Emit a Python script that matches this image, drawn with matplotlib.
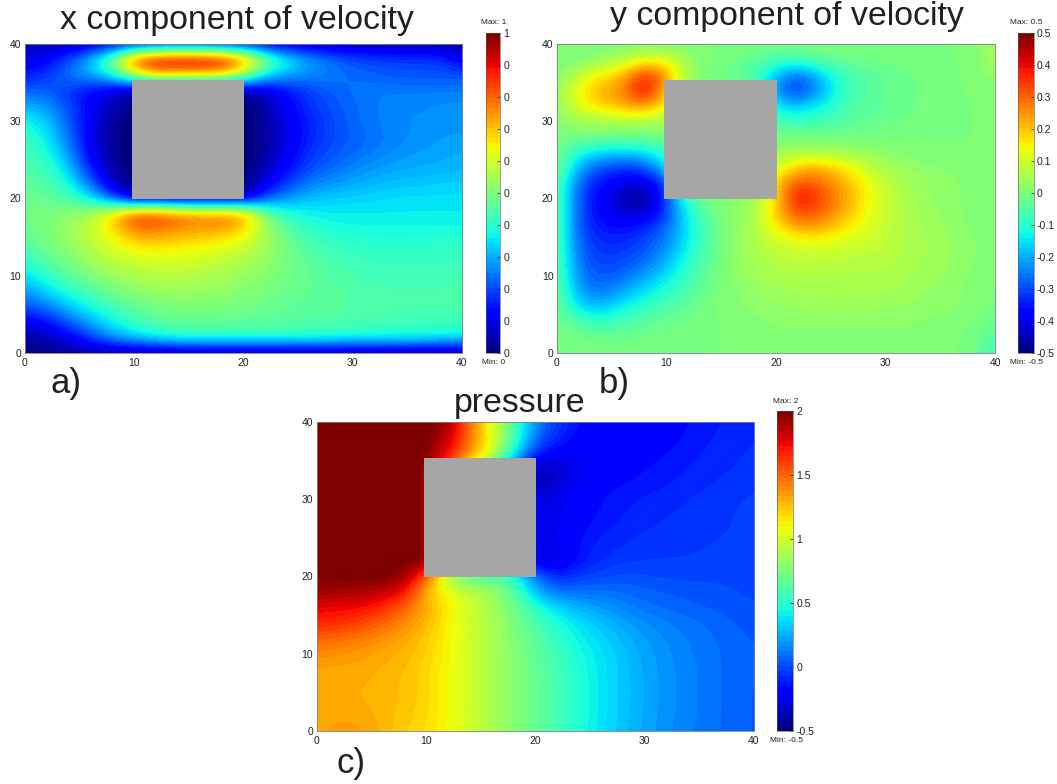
"""
Flow around a square obstacle: u, v and pressure fields
"""
import numpy as np
import matplotlib
matplotlib.use('Agg')
import matplotlib.pyplot as plt
from matplotlib.patches import Rectangle

plt.rcParams['font.family'] = ['Liberation Sans', 'DejaVu Sans']

W, H = 1057, 784

# obstacle: x0, y0, x1, y1
SQUARE = (9.8, 19.9, 20.1, 35.4)
AXIS_TICKS = [0, 10, 20, 30, 40]

# rows go from y=40 down to y=0 in steps of 2, columns x=0..40 in steps of 2
U_FIELD = [
    [.05, .05, .06, .08, .10, .12, .13, .13, .13, .12, .11, .09, .08, .07, .06, .05, .05, .04, .04, .04, .03],
    [.10, .12, .20, .32, .52, .85, .95, .97, .97, .94, .80, .52, .37, .29, .24, .21, .20, .19, .19, .19, .10],
    [.15, .18, .25, .30, .38, .58, .72, .68, .68, .68, .55, .35, .30, .27, .25, .23, .22, .21, .21, .21, .21],
    [.22, .22, .18, .13, .09, .02, .00, .00, .00, .00, .03, .08, .14, .19, .22, .24, .25, .25, .25, .25, .25],
    [.30, .28, .20, .12, .05, .00, .00, .00, .00, .00, .00, .04, .12, .18, .21, .23, .25, .26, .26, .27, .27],
    [.38, .33, .22, .11, .03, .00, .00, .00, .00, .00, .00, .03, .11, .16, .20, .23, .25, .26, .27, .28, .28],
    [.42, .36, .24, .10, .02, .00, .00, .00, .00, .00, .00, .03, .10, .16, .20, .22, .24, .26, .27, .28, .28],
    [.44, .39, .28, .11, .02, .00, .00, .00, .00, .00, .00, .03, .11, .18, .21, .23, .25, .27, .28, .29, .30],
    [.45, .42, .33, .15, .03, .00, .00, .00, .00, .00, .00, .05, .13, .20, .23, .26, .28, .29, .30, .30, .31],
    [.47, .45, .38, .24, .06, .00, .00, .00, .00, .00, .00, .10, .19, .25, .28, .29, .31, .32, .32, .33, .33],
    [.48, .47, .44, .36, .22, .05, .05, .05, .05, .05, .05, .21, .28, .32, .33, .34, .34, .35, .35, .35, .35],
    [.49, .50, .52, .56, .68, .85, .86, .80, .78, .79, .76, .50, .40, .37, .36, .36, .36, .36, .36, .36, .36],
    [.47, .50, .54, .59, .66, .78, .78, .75, .74, .73, .68, .54, .46, .41, .39, .38, .38, .38, .38, .38, .38],
    [.45, .49, .53, .57, .62, .66, .67, .66, .65, .63, .60, .55, .49, .44, .42, .41, .40, .40, .40, .41, .41],
    [.40, .46, .50, .54, .58, .60, .61, .61, .60, .58, .56, .53, .49, .46, .44, .43, .42, .42, .42, .42, .42],
    [.34, .41, .46, .50, .53, .56, .57, .57, .56, .55, .53, .51, .49, .47, .45, .44, .43, .43, .43, .43, .44],
    [.28, .34, .40, .45, .49, .52, .53, .54, .53, .53, .51, .50, .48, .47, .46, .45, .44, .44, .44, .44, .44],
    [.20, .25, .32, .38, .43, .47, .49, .50, .50, .50, .49, .48, .47, .46, .46, .45, .45, .44, .44, .44, .44],
    [.10, .14, .22, .30, .37, .42, .46, .47, .47, .47, .47, .46, .46, .45, .45, .44, .44, .43, .43, .43, .43],
    [.03, .05, .10, .19, .28, .33, .37, .40, .41, .41, .41, .41, .41, .40, .40, .39, .39, .38, .38, .37, .37],
    [.01, .02, .02, .03, .03, .03, .03, .03, .03, .03, .03, .03, .03, .03, .03, .03, .03, .03, .03, .03, .03],
]

V_FIELD = [
    [.00, .00, .00, .00, .00, .00, .00, .00, .00, .00, .00, .00, .00, .00, .00, .00, .00, .00, .00, .00, .05],
    [.00, .00, .02, .06, .11, .12, .03, .00, -.01, -.03, -.06, -.06, -.03, -.02, -.01, -.01, .00, .00, .00, .00, .05],
    [.00, .08, .16, .20, .38, .25, .03, .00, -.03, -.06, -.18, -.28, -.18, -.08, -.05, -.03, -.02, -.01, .00, .00, .03],
    [.02, .15, .22, .26, .43, .20, .00, .00, .00, .00, -.25, -.33, -.22, -.09, -.05, -.03, -.02, -.01, .00, .00, .00],
    [.02, .13, .18, .22, .26, .15, .00, .00, .00, .00, -.15, -.18, -.14, -.07, -.04, -.03, -.02, -.01, .00, .00, .00],
    [.01, .04, .05, .06, .05, .05, .00, .00, .00, .00, -.06, -.08, -.07, -.05, -.03, -.02, -.01, -.01, .00, .00, .00],
    [.00, .00, -.01, -.01, -.01, .00, .00, .00, .00, .00, .00, -.01, -.01, -.01, -.01, -.01, .00, .00, .00, .00, .00],
    [.00, -.12, -.15, -.16, -.15, -.08, .00, .00, .00, .00, .03, .05, .05, .04, .03, .02, .01, .00, .00, .00, .00],
    [.00, -.20, -.30, -.32, -.30, -.15, .00, .00, .00, .00, .10, .20, .22, .17, .10, .05, .03, .02, .01, .01, .00],
    [-.02, -.28, -.36, -.40, -.42, -.32, .00, .00, .00, .00, .20, .33, .30, .23, .15, .08, .05, .03, .02, .01, .00],
    [-.03, -.30, -.38, -.45, -.50, -.30, -.06, .00, .02, .05, .15, .42, .33, .25, .16, .09, .05, .03, .02, .01, .00],
    [-.03, -.30, -.38, -.42, -.42, -.32, -.12, -.02, .02, .04, .20, .33, .30, .23, .14, .09, .06, .04, .02, .01, .00],
    [-.03, -.30, -.35, -.35, -.33, -.26, -.14, -.04, .02, .05, .14, .22, .22, .16, .12, .08, .06, .04, .03, .01, .00],
    [-.03, -.28, -.33, -.33, -.30, -.24, -.13, -.04, .02, .06, .09, .10, .11, .10, .09, .08, .06, .05, .03, .02, .00],
    [-.03, -.27, -.31, -.30, -.27, -.20, -.10, -.03, .02, .05, .07, .08, .08, .08, .07, .07, .06, .04, .03, .02, .00],
    [-.02, -.25, -.29, -.27, -.22, -.15, -.08, -.02, .02, .04, .06, .06, .06, .06, .06, .06, .05, .04, .03, .01, .00],
    [-.02, -.22, -.26, -.21, -.15, -.10, -.05, -.01, .01, .03, .04, .05, .05, .05, .05, .05, .04, .03, .02, .01, .00],
    [-.01, -.16, -.19, -.13, -.09, -.05, -.03, .00, .01, .02, .03, .03, .04, .04, .04, .03, .03, .02, .02, .01, -.01],
    [-.01, -.05, -.09, -.06, -.04, -.02, -.01, .00, .00, .01, .02, .02, .02, .02, .02, .02, .02, .01, .01, .00, -.02],
    [.00, -.01, -.02, -.02, -.01, -.01, .00, .00, .00, .00, .01, .01, .01, .01, .01, .01, .01, .01, .00, .00, -.05],
    [.00, .00, .00, .00, .00, .00, .00, .00, .00, .00, .00, .00, .00, .00, .00, .00, .00, .00, .00, .00, -.10],
]

P_FIELD = [
    [2, 2, 2, 2, 2, 2, 1.95, 1.45, 1.05, .60, .15, -.05, -.15, -.20, -.20, -.20, -.18, -.15, -.12, -.10, -.08],
    [2, 2, 2, 2, 2, 2, 1.85, 1.45, 1.05, .60, .10, -.10, -.18, -.20, -.20, -.19, -.17, -.14, -.11, -.09, -.07],
    [2, 2, 2, 2, 2, 2, 1.75, 1.40, 1.05, .45, -.10, -.20, -.20, -.20, -.19, -.17, -.15, -.12, -.10, -.08, -.06],
    [2, 2, 2, 2, 2, 2, 1.50, 1.00, .50, .00, -.42, -.32, -.24, -.20, -.18, -.15, -.13, -.11, -.09, -.07, -.05],
    [2, 2, 2, 2, 2, 2, 1.50, 1.00, .50, .00, -.42, -.27, -.22, -.17, -.15, -.13, -.11, -.09, -.07, -.05, -.04],
    [2, 2, 2, 2, 2, 2, 1.50, 1.00, .50, .00, -.29, -.25, -.19, -.15, -.12, -.10, -.09, -.07, -.05, -.04, -.02],
    [2, 2, 2, 2, 2, 2, 1.50, 1.00, .50, .00, -.27, -.24, -.18, -.14, -.11, -.09, -.07, -.06, -.05, -.03, -.02],
    [2, 2, 2, 2, 2, 2, 1.50, 1.00, .50, .00, -.26, -.23, -.16, -.12, -.09, -.07, -.06, -.05, -.04, -.03, -.02],
    [2, 2, 2, 2, 2, 2, 1.50, 1.00, .50, .00, -.27, -.24, -.14, -.09, -.07, -.05, -.04, -.04, -.03, -.02, -.01],
    [2, 2, 2, 2, 2, 2, 1.50, 1.00, .50, .00, -.31, -.29, -.13, -.07, -.04, -.03, -.03, -.03, -.02, -.02, -.01],
    [1.95, 2, 2, 2, 1.95, 1.55, .80, .55, .60, .55, .10, -.10, -.03, .00, .02, .01, .00, .00, .00, .00, .00],
    [1.95, 1.90, 1.90, 1.85, 1.75, 1.25, 1.08, .97, .86, .66, .25, .10, .10, .10, .08, .06, .04, .03, .02, .01, .00],
    [1.75, 1.75, 1.73, 1.65, 1.50, 1.32, 1.14, .98, .87, .72, .52, .34, .26, .20, .15, .10, .08, .06, .04, .02, .01],
    [1.68, 1.65, 1.60, 1.50, 1.40, 1.28, 1.12, 1.00, .88, .75, .60, .47, .37, .29, .22, .17, .13, .10, .08, .05, .03],
    [1.50, 1.47, 1.43, 1.38, 1.32, 1.24, 1.11, 1.00, .88, .77, .65, .52, .42, .34, .27, .20, .16, .12, .09, .06, .04],
    [1.40, 1.38, 1.35, 1.32, 1.28, 1.22, 1.11, 1.00, .88, .78, .67, .56, .45, .37, .29, .23, .17, .13, .10, .07, .05],
    [1.32, 1.32, 1.32, 1.29, 1.26, 1.20, 1.10, 1.00, .88, .78, .68, .57, .47, .38, .30, .23, .18, .14, .10, .07, .05],
    [1.32, 1.30, 1.30, 1.28, 1.25, 1.20, 1.10, 1.00, .88, .78, .68, .58, .48, .38, .30, .24, .18, .14, .10, .07, .04],
    [1.30, 1.30, 1.30, 1.28, 1.25, 1.20, 1.10, 1.00, .88, .78, .68, .58, .48, .38, .30, .24, .18, .14, .10, .07, .04],
    [1.30, 1.33, 1.32, 1.28, 1.24, 1.19, 1.10, 1.00, .88, .78, .68, .58, .48, .38, .30, .23, .18, .14, .10, .07, .04],
    [1.32, 1.36, 1.35, 1.29, 1.22, 1.18, 1.09, 1.00, .88, .78, .68, .58, .47, .37, .29, .23, .17, .13, .10, .07, .04],
]

U_TICKS = [0, .1, .2, .3, .4, .5, .6, .7, .8, .9, 1]
U_LABELS = ['0', '0', '0', '0', '0', '0', '0', '0', '0', '0', '1']
V_TICKS = [-.5, -.4, -.3, -.2, -.1, 0, .1, .2, .3, .4, .5]
V_LABELS = ['-0.5', '-0.4', '-0.3', '-0.2', '-0.1', '0', '0.1', '0.2', '0.3', '0.4', '0.5']
P_TICKS = [-.5, 0, .5, 1, 1.5, 2]
P_LABELS = ['-0.5', '0', '0.5', '1', '1.5', '2']


def px_axes(fig, left, top, right, bottom):
    return fig.add_axes([left / W, 1 - bottom / H, (right - left) / W, (bottom - top) / H])


def draw_panel(fig, field, box, cbox, vmin, vmax, ticks, labels, max_text, min_text):
    ax = px_axes(fig, *box)
    im = ax.imshow(np.array(field, dtype=float), cmap=plt.get_cmap('jet', 64), vmin=vmin, vmax=vmax,
                   extent=(-1, 41, -1, 41), origin='upper', aspect='auto', interpolation='bicubic')
    ax.add_patch(Rectangle((SQUARE[0], SQUARE[1]), SQUARE[2] - SQUARE[0], SQUARE[3] - SQUARE[1],
                           facecolor='#a6a6a6', edgecolor='none', zorder=3))
    ax.set_xlim(0, 40)
    ax.set_ylim(0, 40)
    ax.set_xticks(AXIS_TICKS)
    ax.set_yticks(AXIS_TICKS)
    ax.tick_params(length=0, labelsize=7.5, colors='#222222')
    ax.tick_params(axis='x', pad=3.5)
    ax.tick_params(axis='y', pad=2.5)
    for sp in ax.spines.values():
        sp.set_color('#808080')
        sp.set_linewidth(0.6)

    cax = px_axes(fig, *cbox)
    cb = fig.colorbar(im, cax=cax)
    cb.set_ticks(ticks)
    cb.set_ticklabels(labels)
    cb.ax.tick_params(length=2, width=0.5, direction='in', labelsize=7.5, pad=2.5, colors='#222222')
    cb.outline.set_linewidth(0.4)
    cb.outline.set_edgecolor('#555555')
    mid = (cbox[0] + cbox[2]) / 2
    fig.text((mid + 1) / W, 1 - (cbox[1] - 10) / H, max_text, fontsize=6, ha='center', va='center', color='#222222')
    fig.text((mid + 1) / W, 1 - (cbox[3] + 9) / H, min_text, fontsize=6, ha='center', va='center', color='#222222')
    return ax


def big_text(fig, x, y, s, size=24.4):
    fig.text(x / W, 1 - y / H, s, fontsize=size, ha='center', va='center', color='#231f20')


fig = plt.figure(figsize=(W / 100, H / 100), dpi=100)

draw_panel(fig, U_FIELD, (24.7, 44, 461.8, 353), (485.5, 33, 500, 353), 0, 1, U_TICKS, U_LABELS, 'Max: 1', 'Min: 0')
draw_panel(fig, V_FIELD, (557, 44, 995, 353), (1018, 33, 1033.5, 353), -.5, .5, V_TICKS, V_LABELS, 'Max: 0.5', 'Min: -0.5')
draw_panel(fig, P_FIELD, (316.5, 422, 754, 731), (777, 411, 793, 731), -.5, 2, P_TICKS, P_LABELS, 'Max: 2', 'Min: -0.5')

big_text(fig, 237, 20, 'x component of velocity')
big_text(fig, 787, 17, 'y component of velocity')
big_text(fig, 520, 404, 'pressure')
big_text(fig, 66, 384, 'a)', 25)
big_text(fig, 614, 384, 'b)', 25)
big_text(fig, 351, 763, 'c)', 25)

fig.savefig('out.png', dpi=100)
